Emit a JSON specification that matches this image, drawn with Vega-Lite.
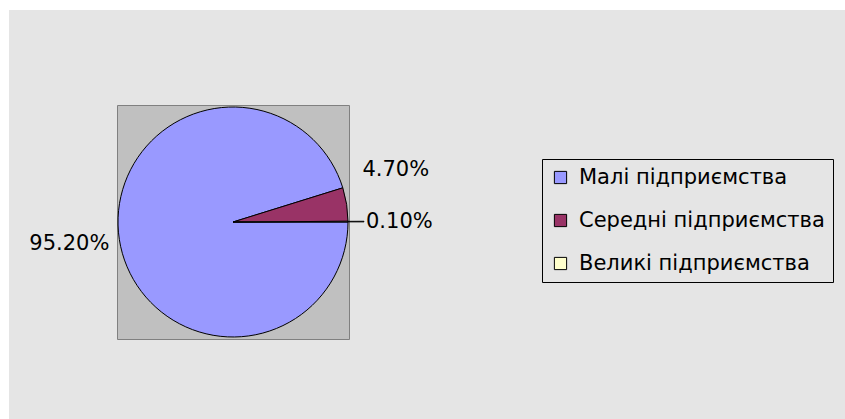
{
  "$schema": "https://vega.github.io/schema/vega-lite/v6.json",
  "background": "#e5e5e5",
  "padding": 0,
  "autosize": {"type": "pad"},
  "config": {"view": {"stroke": null}, "font": "DejaVu Sans", "concat": {"spacing": 0}},
  "spacing": 0,
  "bounds": "flush",
  "vconcat": [
    {"width": 845, "height": 10, "view": {"fill": "white", "stroke": null}, "data": {"values": []}, "mark": "point"},
    {
      "spacing": 0,
      "bounds": "flush",
      "hconcat": [
        {"width": 9, "height": 409, "view": {"fill": "white", "stroke": null}, "data": {"values": []}, "mark": "point"},
        {
          "spacing": 0,
          "bounds": "flush",
          "vconcat": [
            {"width": 836, "height": 95, "data": {"values": []}, "mark": "point"},
            {
              "spacing": 0,
              "bounds": "flush",
              "hconcat": [
                {"width": 108, "height": 234, "data": {"values": []}, "mark": "point"},
                {
                  "width": 232,
                  "height": 234,
                  "view": {"fill": "#c0c0c0", "stroke": "#808080", "strokeWidth": 1},
                  "data": {"values": [
                    {"category": "Малі підприємства", "value": 0.952},
                    {"category": "Середні підприємства", "value": 0.047},
                    {"category": "Великі підприємства", "value": 0.001}
                  ]},
                  "layer": [
                    {
                      "mark": {"type": "arc", "outerRadius": 115, "stroke": "black", "strokeWidth": 1},
                      "encoding": {
                        "theta": {"field": "value", "type": "quantitative", "stack": true, "scale": {"domain": [0, 1], "range": [1.5708, 7.854]}},
                        "order": {"field": "value", "sort": "descending"},
                        "color": {
                          "field": "category", "type": "nominal",
                          "sort": ["Малі підприємства", "Середні підприємства", "Великі підприємства"],
                          "scale": {"domain": ["Малі підприємства", "Середні підприємства", "Великі підприємства"], "range": ["#9999ff", "#993366", "#ffffcc"]},
                          "legend": {
                            "orient": "none", "legendX": 542, "legendY": 159, "title": null,
                            "strokeColor": "black", "padding": 8, "symbolType": "square", "symbolSize": 150,
                            "symbolStrokeColor": "black", "symbolStrokeWidth": 1, "labelFontSize": 21,
                            "labelFont": "DejaVu Sans", "labelColor": "black", "rowPadding": 21, "labelOffset": 8, "labelLimit": 400
                          }
                        }
                      }
                    },
                    {
                      "mark": {"type": "arc", "innerRadius": 115, "outerRadius": 131, "fill": "black", "stroke": "black", "strokeWidth": 0.7},
                      "encoding": {
                        "theta": {"field": "value", "type": "quantitative", "stack": true},
                        "order": {"field": "value", "sort": "descending"},
                        "opacity": {"condition": {"test": "datum.category == 'Великі підприємства'", "value": 1}, "value": 0}
                      }
                    },
                    {
                      "mark": {"type": "text", "radius": 125, "align": "right", "baseline": "middle", "dy": 3, "fontSize": 21, "font": "DejaVu Sans", "color": "black"},
                      "encoding": {
                        "theta": {"field": "value", "type": "quantitative", "stack": true},
                        "order": {"field": "value", "sort": "descending"},
                        "text": {"condition": {"test": "datum.category == 'Малі підприємства'", "field": "value", "type": "quantitative", "format": ".2%"}, "value": ""}
                      }
                    },
                    {
                      "mark": {"type": "text", "radius": 131, "align": "left", "baseline": "middle", "dy": -32, "fontSize": 21, "font": "DejaVu Sans", "color": "black"},
                      "encoding": {
                        "theta": {"field": "value", "type": "quantitative", "stack": true},
                        "order": {"field": "value", "sort": "descending"},
                        "text": {"condition": {"test": "datum.category == 'Середні підприємства'", "field": "value", "type": "quantitative", "format": ".2%"}, "value": ""}
                      }
                    },
                    {
                      "mark": {"type": "text", "radius": 133, "align": "left", "baseline": "middle", "dy": 0, "fontSize": 21, "font": "DejaVu Sans", "color": "black"},
                      "encoding": {
                        "theta": {"field": "value", "type": "quantitative", "stack": true},
                        "order": {"field": "value", "sort": "descending"},
                        "text": {"condition": {"test": "datum.category == 'Великі підприємства'", "field": "value", "type": "quantitative", "format": ".2%"}, "value": ""}
                      }
                    }
                  ]
                }
              ]
            }
          ]
        }
      ]
    }
  ]
}
